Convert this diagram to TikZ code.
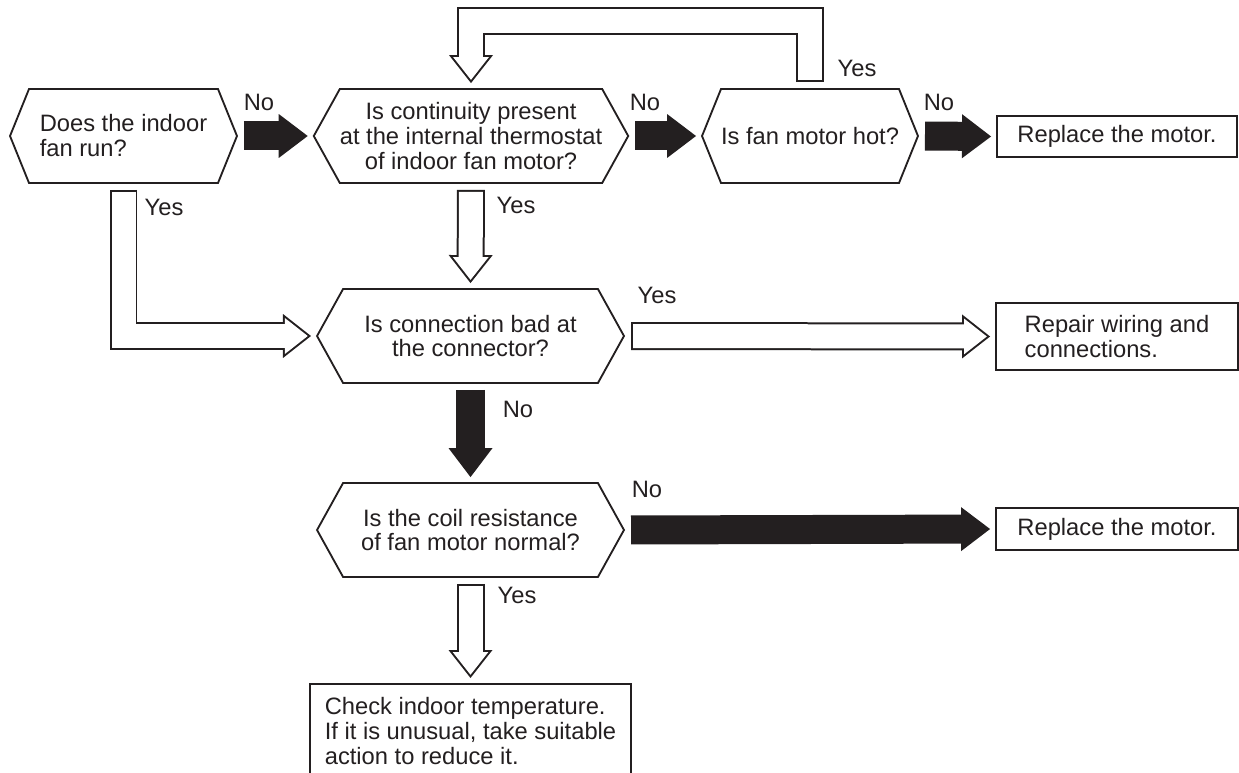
\documentclass[tikz,border=0pt]{standalone}
\usepackage{fontspec}
\setmainfont{Liberation Sans}
\usetikzlibrary{arrows.meta, shapes.symbols}
\definecolor{ink}{RGB}{35,31,32}

\begin{document}
\begin{tikzpicture}[
    x=0.02cm, y=-0.02cm,
    font=\fontsize{13.5}{14.2}\selectfont,
    ask/.style={
        signal, signal to=east and west, draw=ink, line width=1.05pt,
        minimum height=1.88cm, inner sep=0pt, align=center, text=ink
    },
    ask1/.style={ask, signal pointer angle=136},
    ask2/.style={ask, signal pointer angle=122},
    box/.style={
        rectangle, draw=ink, line width=1.1pt, inner sep=0pt,
        align=left, text=ink
    },
    lbl/.style={inner sep=0pt, text=ink},
    noarr/.style={
        draw=ink, line width=0.58cm, shorten <=0.12cm, shorten >=0.1cm,
        -{Triangle[length=0.58cm, width=0.88cm, line width=0pt]}
    },
    yesarr/.style={
        draw=ink, line width=0.56cm, line join=miter,
        shorten <=0.12cm, shorten >=0.1cm,
        -{Triangle[length=0.56cm, width=0.88cm, line width=0pt]},
        postaction={draw=white, line width=0.48cm,
            shorten <=0.16cm, shorten >=0.165cm,
            -{Triangle[length=0.455cm, width=0.715cm, line width=0pt]}}
    }
]
\useasboundingbox (0,0) rectangle (1239,773);
\clip (0,0) rectangle (1239,773);

\node[ask1, minimum width=4.54cm, align=left] at (123.5,136) (fan)  {Does the indoor\\fan run?};
\node[ask2, minimum width=6.16cm] at (471,136)   (cont) {Is continuity present\\at the internal thermostat\\of indoor fan motor?};
\node[ask1, minimum width=4.32cm] at (810,136)   (hot)  {Is fan motor hot?};
\node[box, minimum width=4.8cm, minimum height=0.82cm] at (1117,136.5) (repl1) {Replace the motor.};

\node[ask2, minimum width=6.14cm] at (470.5,336) (conn)   {Is connection bad at\\the connector?};
\node[box, minimum width=4.84cm, minimum height=1.34cm] at (1117,336.5) (repair) {Repair wiring and\\connections.};

\node[ask2, minimum width=6.14cm] at (470.5,530) (coil)   {Is the coil resistance\\of fan motor normal?};
\node[box, minimum width=4.84cm, minimum height=0.84cm] at (1117,529) (repl2) {Replace the motor.};

\node[box, minimum width=6.42cm, anchor=north, inner ysep=0.26cm] at (470.5,683) (check)
    {Check indoor temperature.\\If it is unusual, take suitable\\action to reduce it.};

% No branches
\draw[noarr] (fan.east)  -- (cont.west);
\draw[noarr] (cont.east) -- (hot.west);
\draw[noarr] (hot.east)  -- (repl1.west);
\draw[noarr] (conn.south) -- (coil.north);
\draw[noarr] (coil.east) -- (repl2.west);

% Yes branches
\draw[yesarr] (hot.north) -- ++(0,-67) -| (cont.north);
\draw[yesarr] (fan.south) |- (conn.west);
\draw[yesarr] (cont.south) -- (conn.north);
\draw[yesarr] (conn.east) -- (repair.west);
\draw[yesarr] (coil.south) -- (check.north);

\node[lbl] at (259,102) (lno1) {No};
\node[lbl] at (645,102) (lno2) {No};
\node[lbl] at (939,102) (lno3) {No};
\node[lbl] at (857,68)  (lyes1) {Yes};
\node[lbl] at (164,207) (lyes2) {Yes};
\node[lbl] at (516,205) (lyes3) {Yes};
\node[lbl] at (657,295) (lyes4) {Yes};
\node[lbl] at (518,409) (lno4) {No};
\node[lbl] at (647,489) (lno5) {No};
\node[lbl] at (517,595) (lyes5) {Yes};

\end{tikzpicture}
\end{document}
